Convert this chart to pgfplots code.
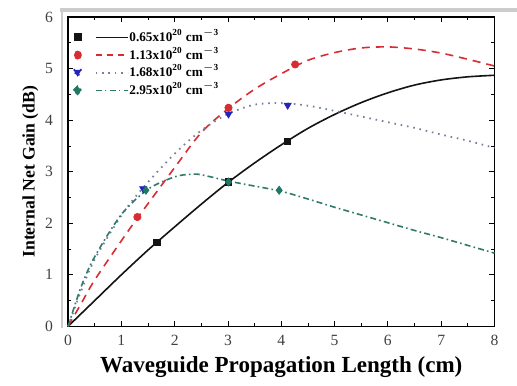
\documentclass[border=0pt]{standalone}
\usepackage{fontspec}
\setmainfont{Liberation Serif}
\usepackage{pgfplots}
\pgfplotsset{compat=1.18}
\usetikzlibrary{calc}
\definecolor{cblack}{RGB}{20,20,20}
\definecolor{cred}{RGB}{215,45,50}
\definecolor{cblue}{RGB}{35,35,190}
\definecolor{cteal}{RGB}{30,120,100}
\definecolor{cdot}{RGB}{120,130,150}
\begin{document}
\begin{tikzpicture}
\begin{axis}[
  scale only axis,
  width=213pt, height=154.5pt,
  xmin=0, xmax=8, ymin=0, ymax=6,
  xtick={0,...,8}, ytick={0,...,6},
  minor x tick num=1, minor y tick num=1,
  tick align=inside,
  major tick length=2.5pt, minor tick length=1.5pt,
  tick style={black, line width=0.4pt},
  axis line style={black, line width=0.6pt},
  /pgf/number format/assume math mode=true,
  ticklabel style={font=\fontsize{7.8}{8}\selectfont, text=black!75},
  yticklabel style={xshift=-4pt},
  xticklabel style={yshift=-1pt},
  xlabel={\fontsize{11.5}{12}\selectfont\bfseries Waveguide Propagation Length (cm)},
  ylabel={\fontsize{8.8}{10}\selectfont\bfseries Internal Net Gain (dB)},
  xlabel style={yshift=1.5pt},
  ylabel style={yshift=-3.5pt},
  legend style={draw=none, fill=none, at={(0.005,0.965)}, anchor=north west,
    font=\fontsize{6.6}{7}\selectfont\bfseries, row sep=1.6pt, inner sep=1pt,
    nodes={inner sep=0.5pt, text height=5.2pt, text depth=1pt}},
  legend cell align=left,
  clip=false,
]
\addplot[cblack, line width=0.8pt, smooth,
  legend image code/.code={
    \draw[cblack, line width=0.8pt] (9pt,0pt) -- (25pt,0pt);
    \fill[cblack] (-1.6pt,-1.6pt) rectangle (1.6pt,1.6pt);}]
  coordinates {(0,0) (0.5,0.5) (1,1.0) (1.5,1.48) (2,1.93) (2.5,2.37) (3,2.79) (3.5,3.17) (4,3.52) (4.5,3.84) (5,4.11) (5.5,4.34) (6,4.53) (6.5,4.68) (7,4.78) (7.5,4.84) (8,4.87)};
\addlegendentry{0.65x10$^{\mathbf{20}}$ cm$^{\mathbf{-3}}$}
\addplot[cred, line width=0.8pt, dash pattern=on 4pt off 3pt, smooth,
  legend image code/.code={
    \draw[cred, line width=0.8pt, dash pattern=on 3pt off 2.5pt] (9pt,0pt) -- (25pt,0pt);
    \fill[cred] (0pt,0pt) circle (1.8pt);}]
  coordinates {(0,0) (0.25,0.45) (0.5,0.9) (1,1.66) (1.3,2.1) (1.5,2.38) (2,3.08) (2.5,3.76) (3,4.22) (3.5,4.6) (4,4.9) (4.5,5.16) (5,5.31) (5.5,5.4) (6,5.42) (6.5,5.38) (7,5.3) (7.5,5.18) (8,5.05)};
\addlegendentry{1.13x10$^{\mathbf{20}}$ cm$^{\mathbf{-3}}$}
\addplot[cdot, line width=0.9pt, dash pattern=on 0.8pt off 2.4pt, smooth,
  legend image code/.code={
    \draw[cdot, line width=0.9pt, dash pattern=on 0.8pt off 2.4pt] (9pt,0pt) -- (25pt,0pt);
    \fill[cblue] (-2pt,1.4pt) -- (2pt,1.4pt) -- (0pt,-2pt) -- cycle;}]
  coordinates {(0,0) (0.25,0.7) (0.5,1.3) (1,2.15) (1.4,2.68) (2,3.35) (2.5,3.8) (3,4.12) (3.5,4.3) (4,4.33) (4.5,4.28) (5,4.18) (5.5,4.07) (6,3.96) (6.5,3.85) (7,3.72) (7.5,3.6) (8,3.46)};
\addlegendentry{1.68x10$^{\mathbf{20}}$ cm$^{\mathbf{-3}}$}
\addplot[cteal!80!gray, line width=0.8pt, dash pattern=on 3pt off 1.6pt on 0.8pt off 1.6pt, smooth,
  legend image code/.code={
    \draw[cteal!80!gray, line width=0.8pt, dash pattern=on 3pt off 1.6pt on 0.8pt off 1.6pt] (9pt,0pt) -- (25pt,0pt);
    \fill[cteal] (-2pt,0pt) -- (0pt,2pt) -- (2pt,0pt) -- (0pt,-2pt) -- cycle;}]
  coordinates {(0,0) (0.25,0.78) (0.5,1.35) (1,2.17) (1.5,2.66) (2,2.9) (2.3,2.95) (2.5,2.94) (3,2.82) (3.5,2.72) (4,2.62) (4.5,2.47) (5,2.31) (5.5,2.16) (6,2.01) (6.5,1.86) (7,1.72) (7.5,1.57) (8,1.42)};
\addlegendentry{2.95x10$^{\mathbf{20}}$ cm$^{\mathbf{-3}}$}
\addplot[only marks, mark=square*, mark size=1.6pt, cblack, forget plot]
  coordinates {(1.67,1.63) (3.01,2.8) (4.12,3.59)};
\addplot[only marks, mark=*, mark size=1.8pt, cred, forget plot]
  coordinates {(1.3,2.12) (3.01,4.24) (4.26,5.08)};
\addplot[only marks, mark=triangle*, mark size=2pt, mark options={rotate=180}, cblue, forget plot]
  coordinates {(1.41,2.67) (3.01,4.12) (4.12,4.29)};
\addplot[only marks, mark=diamond*, mark size=2pt, cteal, forget plot]
  coordinates {(1.46,2.64) (3.01,2.8) (3.96,2.64)};
\end{axis}
\draw[black!20, line width=2pt] ($(current axis.north west)+(-4pt,3.5pt)$) -- ($(current axis.north east)+(11.25pt,3.5pt)$);
\draw[black!20, line width=0.6pt] ($(current axis.north west)+(-3pt,3.5pt)$) -- ($(current axis.south west)+(-3pt,-1pt)$);
\pgfresetboundingbox
\path[use as bounding box] ($(current axis.south west)+(-34pt,-29.5pt)$) rectangle ($(current axis.north east)+(11.25pt,8.5pt)$);
\end{tikzpicture}
\end{document}
